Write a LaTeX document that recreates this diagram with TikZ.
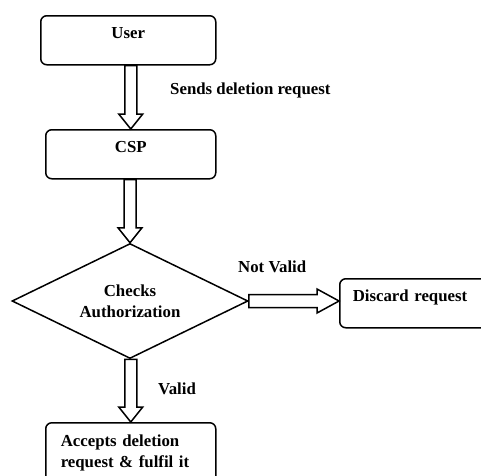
\documentclass[tikz,border=0pt]{standalone}
\usepackage{fontspec}
\setmainfont{Liberation Serif}
\usetikzlibrary{shapes.geometric,calc}
\newcommand{\blockdown}[2]{%
  \draw[barrow] ($(#1 -| #2)+(-6,0)$) -- ($(#2)+(-6,-15)$) -- ($(#2)+(-12,-15)$) -- (#2)
    -- ($(#2)+(12,-15)$) -- ($(#2)+(6,-15)$) -- ($(#1 -| #2)+(6,0)$) -- cycle;}
\begin{document}
\begin{tikzpicture}[x=1pt,y=-1pt,
  font=\bfseries\fontsize{16.8}{21}\selectfont,
  box/.style={draw, line width=1.5pt, rounded corners=6pt, inner ysep=0pt, text height=23pt, text depth=26pt},
  barrow/.style={draw, fill=white, line width=1.5pt, line join=miter},
  lbl/.style={inner sep=0pt, anchor=base west}]
\useasboundingbox (0,0) rectangle (481,475);
\clip (0,0) rectangle (481,475);
\node[box, minimum width=175pt, anchor=north west] (user) at (40,15) {User};
\node[box, minimum width=170pt, anchor=north west] (csp) at (45,129) {CSP};
\node[diamond, aspect=2, draw, line width=1.5pt, minimum width=236pt, minimum height=115pt, inner sep=0pt, align=center] (dec) at (130,301) {Checks\\Authorization};
\node[box, anchor=north west, inner xsep=13pt, text width=134pt, align=left] (discard) at (339,278) {Discard request};
\node[box, anchor=north west, inner xsep=15pt, text width=140pt, align=left, text height=24pt, text depth=40pt] (accept) at (45,422) {Accepts deletion\\request \& fulfil it};
\blockdown{user.south}{csp.north}
\blockdown{csp.south}{dec.north}
\blockdown{dec.south}{accept.north}
\coordinate (tipr) at (discard.west |- dec.east);
\draw[barrow] ($(dec.east)+(0,-6.5)$) -- ($(tipr)+(-22,-6.5)$) -- ($(tipr)+(-22,-12)$) -- (tipr)
  -- ($(tipr)+(-22,12)$) -- ($(tipr)+(-22,6.5)$) -- ($(dec.east)+(0,6.5)$) -- cycle;
\node[lbl] (l1) at (170,94) {Sends deletion request};
\node[lbl] (l2) at (238,272) {Not Valid};
\node[lbl] (l3) at (158,394) {Valid};
\end{tikzpicture}
\end{document}
